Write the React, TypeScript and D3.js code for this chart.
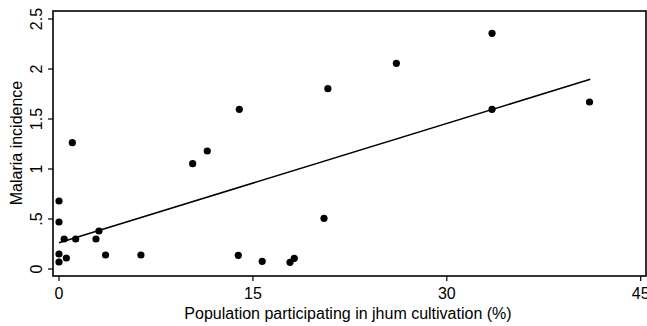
import React from "react";
import * as d3 from "d3";

const jhum = [0, 0, 0, 0, 0.4, 0.57, 1.03, 1.29, 2.86, 3.09, 3.6, 6.34, 10.34, 11.47, 13.95, 13.87, 15.72, 17.87, 18.2, 20.5, 20.8, 26.1, 33.5, 33.5, 41.04];
const incidence = [0.68, 0.47, 0.15, 0.07, 0.3, 0.11, 1.263, 0.3, 0.3, 0.38, 0.14, 0.14, 1.053, 1.18, 1.597, 0.137, 0.077, 0.067, 0.107, 0.507, 1.803, 2.057, 2.357, 1.597, 1.67];
const fitX = [0, 41.1];
const fitY = [0.263, 1.897];
const xTicks = [0, 15, 30, 45];
const yTicks = [0, 0.5, 1, 1.5, 2, 2.5];
const yTickLabels = ["0", ".5", "1", "1.5", "2", "2.5"];

const W = 647;
const H = 326;
const frame = { left: 53, right: 646, top: 11, bottom: 276 };
const FONT = "'Liberation Sans', Arial, Helvetica, sans-serif";

export default function App() {
  const x = d3.scaleLinear().domain([0, 45]).range([59, 640.7]);
  const y = d3.scaleLinear().domain([0, 2.5]).range([269, 19]);
  const line = d3
    .line<number>()
    .x((d) => x(fitX[d]))
    .y((d) => y(fitY[d]));

  return (
    <svg
      width={W}
      height={H}
      style={{ position: "absolute", left: 0, top: 0, background: "#fff" }}
      fontFamily={FONT}
    >
      <rect x={0} y={0} width={W} height={H} fill="#fff" />
      <rect
        x={frame.left}
        y={frame.top}
        width={frame.right - frame.left}
        height={frame.bottom - frame.top}
        fill="none"
        stroke="#000"
        strokeWidth={1.6}
      />
      {yTicks.map((t, i) => (
        <g key={"y" + i}>
          <line x1={frame.left - 5} x2={frame.left} y1={y(t)} y2={y(t)} stroke="#000" strokeWidth={1.2} />
          <text
            transform={`translate(42,${y(t)}) rotate(-90)`}
            textAnchor="middle"
            fontSize={16}
            fill="#000"
          >
            {yTickLabels[i]}
          </text>
        </g>
      ))}
      {xTicks.map((t, i) => (
        <g key={"x" + i}>
          <line x1={x(t)} x2={x(t)} y1={frame.bottom} y2={frame.bottom + 5} stroke="#000" strokeWidth={1.2} />
          <text x={x(t)} y={299} textAnchor="middle" fontSize={16} fill="#000">
            {t}
          </text>
        </g>
      ))}
      <text
        transform={`translate(22,143) rotate(-90)`}
        textAnchor="middle"
        fontSize={16}
        fill="#000"
      >
        Malaria incidence
      </text>
      <text x={348} y={319} textAnchor="middle" fontSize={16} fill="#000">
        Population participating in jhum cultivation (%)
      </text>
      {jhum.map((v, i) => (
        <circle key={"p" + i} cx={x(v)} cy={y(incidence[i])} r={3.6} fill="#000" />
      ))}
      <path d={line([0, 1]) || ""} fill="none" stroke="#000" strokeWidth={1.6} />
    </svg>
  );
}
